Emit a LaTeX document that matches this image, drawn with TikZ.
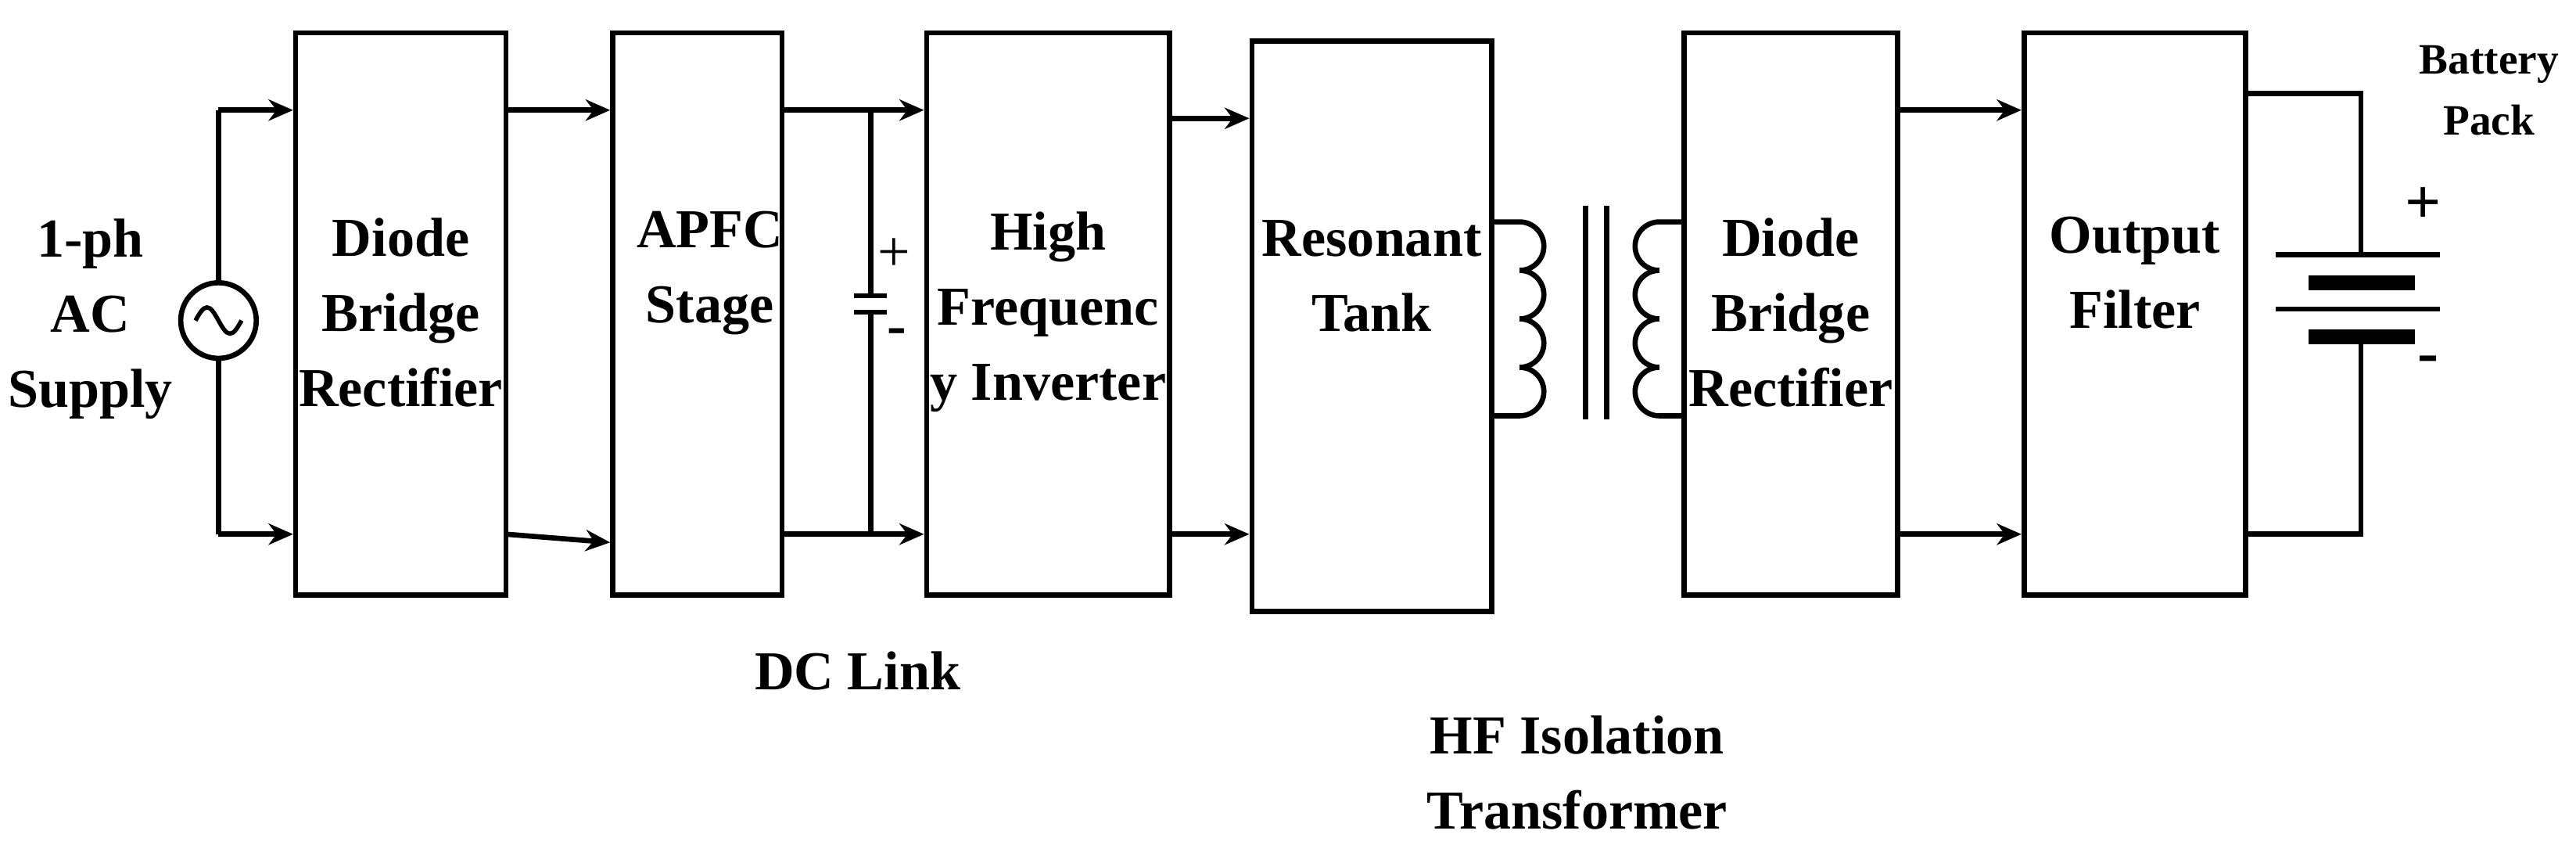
\documentclass[tikz,border=0pt]{standalone}
\usepackage{fontspec}
\setmainfont{Liberation Serif}
\usetikzlibrary{arrows.meta, positioning}
\tikzstyle{block} = [rectangle, draw=black, line width=1.8pt, minimum width=2.6cm, minimum height=6.84cm]
\tikzstyle{lbl} = [align=center, font=\bfseries\fontsize{19}{26}\selectfont]
\tikzstyle{arrow} = [line width=1.8pt, -{Stealth[length=0.3cm, width=0.26cm]}]
\tikzstyle{wire} = [line width=1.8pt]
\begin{document}
\begin{tikzpicture}[x=0.02cm, y=-0.02cm]
    \useasboundingbox (0,0) rectangle (1568,525);
    % blocks
    \node (rect1) [block, minimum width=2.56cm] at (244,191) {};
    \node (apfc) [block, minimum width=2.06cm] at (424.5,191) {};
    \node (inv) [block, minimum width=2.96cm] at (638,191) {};
    \node (tank) [block, minimum width=2.92cm, minimum height=6.94cm] at (835,198.5) {};
    \node (rect2) [block] at (1090,191) {};
    \node (filter) [block, minimum width=2.7cm] at (1299.5,191) {};
    % block texts
    \node (rect1-t) [lbl] at (244,190) {Diode\\Bridge\\Rectifier};
    \node (apfc-t) [lbl] at (432,166) {APFC\\Stage};
    \node (inv-t) [lbl] at (638,190) {High\\Frequenc\\y Inverter};
    \node (tank-t) [lbl] at (835,168) {Resonant\\Tank};
    \node (rect2-t) [lbl] at (1090,190) {Diode\\Bridge\\Rectifier};
    \node (filter-t) [lbl] at (1299.5,166) {Output\\Filter};
    \node (ac-t) [lbl] at (55,194) {1-ph\\AC\\Supply};
    \node (dc-t) [lbl] at (522,408) {DC Link};
    \node (hf-t) [lbl] at (960,470) {HF Isolation\\Transformer};
    \node (bat-t) [lbl, font=\bfseries\fontsize{15}{21}\selectfont] at (1515,55) {Battery\\Pack};
    % ac source
    \node (ac) [circle, draw, line width=1.8pt, minimum size=0.92cm] at (133,195) {};
    \draw [line width=1.5pt] (119,195) sin (126,187) cos (133,195) sin (140,203) cos (147,195);
    \coordinate (ac-top) at (133,67);
    \coordinate (ac-bot) at (133,325);
    \draw [wire] (ac.north) -- (ac-top);
    \draw [wire] (ac.south) -- (ac-bot);
    \draw [arrow] (ac-top) -- (rect1.west |- ac-top);
    \draw [arrow] (ac-bot) -- (rect1.west |- ac-bot);
    % rectifier to apfc
    \coordinate (r1-bot) at (308,325);
    \draw [arrow] (rect1.east |- ac-top) -- (apfc.west |- ac-top);
    \draw [arrow] (r1-bot) -- (apfc.west |- 0,330);
    % dc link
    \coordinate (cap-top) at (530,67);
    \coordinate (cap-bot) at (530,325);
    \coordinate (cap-a) at (530,180);
    \coordinate (cap-b) at (530,190);
    \draw [arrow] (apfc.east |- cap-top) -- (inv.west |- cap-top);
    \draw [arrow] (apfc.east |- cap-bot) -- (inv.west |- cap-bot);
    \draw [wire] (cap-top) -- (cap-a) (cap-b) -- (cap-bot);
    \draw [wire] (520,180) -- (540,180) (520,190) -- (540,190);
    \node (cap-p) [font=\fontsize{20}{24}\selectfont] at (544,155) {+};
    \node (cap-m) [font=\bfseries\fontsize{20}{24}\selectfont] at (546,205) {-};
    % inverter to tank
    \draw [arrow] (inv.east |- 0,72) -- (tank.west |- 0,72);
    \draw [arrow] (inv.east |- cap-bot) -- (tank.west |- cap-bot);
    % transformer
    \draw [wire] (tank.east |- 0,135) -- (925,135)
        arc[start angle=90, end angle=-90, radius=0.295cm]
        arc[start angle=90, end angle=-90, radius=0.295cm]
        arc[start angle=90, end angle=-90, radius=0.295cm]
        arc[start angle=90, end angle=-90, radius=0.295cm] -- (tank.east |- 0,253);
    \draw [wire] (965,125) -- (965,255) (978,125) -- (978,255);
    \draw [wire] (rect2.west |- 0,135) -- (1010,135)
        arc[start angle=90, end angle=270, radius=0.295cm]
        arc[start angle=90, end angle=270, radius=0.295cm]
        arc[start angle=90, end angle=270, radius=0.295cm]
        arc[start angle=90, end angle=270, radius=0.295cm] -- (rect2.west |- 0,253);
    % rectifier to filter
    \draw [arrow] (rect2.east |- ac-top) -- (filter.west |- ac-top);
    \draw [arrow] (rect2.east |- cap-bot) -- (filter.west |- cap-bot);
    % battery
    \coordinate (bat-top) at (1437,155);
    \coordinate (bat-bot) at (1437,188);
    \draw [wire] (filter.east |- 0,57) -- (1437,57) -- (bat-top);
    \draw [wire] (filter.east |- cap-bot) -- (1437,325) -- (1437,205);
    \draw [wire] (1385,155) -- (1485,155) (1385,188) -- (1485,188);
    \draw [line width=5pt] (1405,172) -- (1470,172) (1405,205) -- (1470,205);
    \node (bat-p) [font=\bfseries\fontsize{22}{26}\selectfont] at (1475,125) {+};
    \node (bat-m) [font=\bfseries\fontsize{22}{26}\selectfont] at (1478,222) {-};
\end{tikzpicture}
\end{document}
